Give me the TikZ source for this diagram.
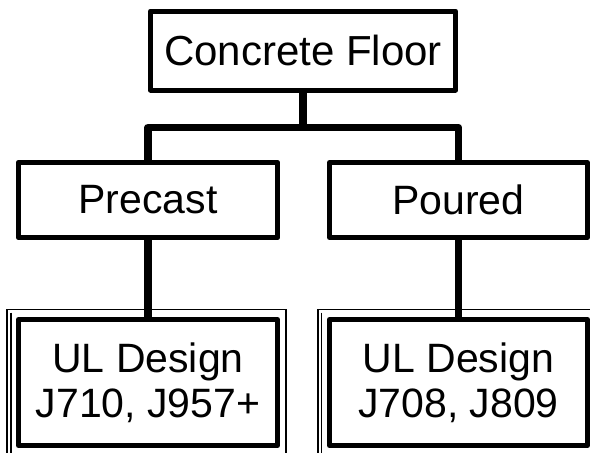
\documentclass[tikz,border=0pt]{standalone}
\usepackage{fontspec}
\setmainfont{Liberation Sans}

\begin{document}
\begin{tikzpicture}[x=1pt,y=-1pt,
  box/.style={draw, line width=5pt, line join=round, fill=white, inner sep=0pt,
    font=\fontsize{41}{45}\selectfont, align=center},
  link/.style={line width=7.5pt, line join=round},
  frame/.style={line width=1.3pt}]

\useasboundingbox (0,0) rectangle (590,453);

% Top box
\node[box, minimum width=305pt, minimum height=79pt, font=\fontsize{42}{46}\selectfont] (floor) at (303,50.5) {Concrete Floor};

% Middle boxes
\node[box, minimum width=259.5pt, minimum height=75pt] (precast) at (148,200) {Precast};
\node[box, minimum width=258pt, minimum height=75pt] (poured) at (458.5,200) {Poured};

% Bottom boxes
\node[box, minimum width=259pt, minimum height=126pt] (designA) at (148,382.5) {UL Design\\J710, J957+};
\node[box, minimum width=258pt, minimum height=126pt] (designB) at (458.5,382.5) {UL Design\\J708, J809};

% Thin outer frames of the bottom boxes
\draw[frame] ([shift={(-9,70)}]designA.south west) -- ([shift={(-9,-7.5)}]designA.north west)
  -- ([shift={(6,-7.5)}]designA.north east) -- ([shift={(6,70)}]designA.south east);
\draw[frame] ([shift={(-5,-4.5)}]designA.north west) -- ([shift={(-5,70)}]designA.south west);
\draw[frame] ([shift={(-9,70)}]designB.south west) -- ([shift={(-9,-7.5)}]designB.north west)
  -- ([shift={(20,-7.5)}]designB.north east);
\draw[frame] ([shift={(-5.5,-4.5)}]designB.north west) -- ([shift={(-5.5,70)}]designB.south west);

% Connectors
\coordinate (split) at (303,127.5);
\draw[link] (floor.south) -- (split);
\draw[link] (precast.north) |- (split) -| (poured.north);
\draw[link] (precast.south) -- (designA.north);
\draw[link] (poured.south) -- (designB.north);

\end{tikzpicture}
\end{document}
